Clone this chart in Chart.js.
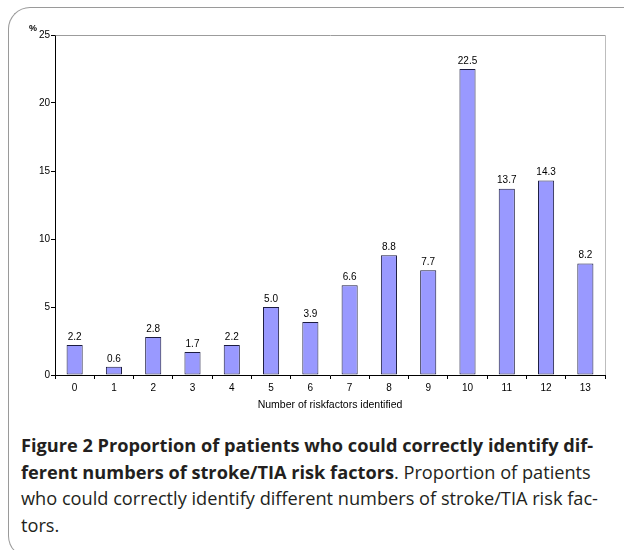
<!DOCTYPE html>
<html>
<head>
<meta charset="utf-8">
<script src="https://cdn.jsdelivr.net/npm/chart.js@4/dist/chart.umd.min.js"></script>
<style>
  html, body { margin: 0; padding: 0; background: #fff; width: 624px; height: 550px; overflow: hidden; }
  .frame {
    position: absolute; left: 8px; top: 7px; width: 660px; height: 549px;
    border-top: 1.5px solid #9a9a9a; border-left: 1.5px solid #9a9a9a; border-bottom: 1.5px solid #9a9a9a;
    border-top-left-radius: 22px; border-bottom-left-radius: 22px;
  }
  #wrap { position: absolute; left: 0; top: 0; width: 624px; height: 420px; }
  .caption {
    position: absolute; left: 21px; top: 432px;
    font-family: "Open Sans", sans-serif; font-size: 18.2px; line-height: 26.5px;
    color: #231f20; white-space: nowrap;
  }
  .caption b { font-weight: 700; }
</style>
</head>
<body>
<div class="frame"></div>
<div id="wrap"><canvas id="chart" width="624" height="420"></canvas></div>
<div class="caption">
  <b>Figure 2 Proportion of patients who could correctly identify dif-<br>ferent numbers of stroke/TIA risk factors</b>. Proportion of patients<br>who could correctly identify different numbers of stroke/TIA risk fac-<br>tors.
</div>
<script>
// Number of risk factors each patient could name
const categories = ['0', '1', '2', '3', '4', '5', '6', '7', '8', '9', '10', '11', '12', '13'];
// Share of patients (%) for each count
const percentValues = [2.2, 0.6, 2.8, 1.7, 2.2, 5.0, 3.9, 6.6, 8.8, 7.7, 22.5, 13.7, 14.3, 8.2];
// Value axis ticks
const yTicks = [0, 5, 10, 15, 20, 25];

const axisFont = { family: '"Liberation Sans", Arial, sans-serif', size: 10 };

// Grey frame on the top and right of the plot area
const plotFrame = {
  id: 'plotFrame',
  beforeDatasetsDraw(chart) {
    const { ctx, chartArea: a } = chart;
    ctx.save();
    ctx.lineWidth = 1;
    ctx.strokeStyle = '#9c9c9c';
    ctx.beginPath();
    ctx.moveTo(Math.round(a.left) + 0.5, Math.round(a.top) + 0.5);
    ctx.lineTo(Math.round(a.right) + 0.5, Math.round(a.top) + 0.5);
    ctx.stroke();
    ctx.strokeStyle = '#bdbdbd';
    ctx.beginPath();
    ctx.moveTo(Math.round(a.right) + 0.5, Math.round(a.top) + 0.5);
    ctx.lineTo(Math.round(a.right) + 0.5, Math.round(a.bottom));
    ctx.stroke();
    ctx.restore();
  }
};

// Value labels above the bars and the "%" unit at the top of the value axis
const barLabels = {
  id: 'barLabels',
  afterDatasetsDraw(chart) {
    const { ctx } = chart;
    const meta = chart.getDatasetMeta(0);
    ctx.save();
    ctx.font = '10px "Liberation Sans", Arial, sans-serif';
    ctx.fillStyle = '#000';
    ctx.textAlign = 'center';
    ctx.textBaseline = 'bottom';
    meta.data.forEach((bar, i) => {
      ctx.fillText(percentValues[i].toFixed(1), bar.x, bar.y - 3);
    });
    const y = chart.scales.y;
    ctx.font = 'bold 9px "Liberation Sans", Arial, sans-serif';
    ctx.textAlign = 'right';
    ctx.textBaseline = 'middle';
    ctx.fillText('%', y.right - 18, y.getPixelForValue(25) - 6);
    ctx.restore();
  }
};

new Chart(document.getElementById('chart'), {
  type: 'bar',
  data: {
    labels: categories,
    datasets: [{
      data: percentValues,
      backgroundColor: '#9999ff',
      borderColor: '#1c1c40',
      borderWidth: 1,
      borderSkipped: false,
      barPercentage: 0.41,
      categoryPercentage: 1.0
    }]
  },
  options: {
    responsive: false,
    animation: false,
    devicePixelRatio: 1,
    layout: { padding: { left: 0, right: 19, top: 35, bottom: 0 } },
    plugins: { legend: { display: false }, tooltip: { enabled: false } },
    scales: {
      x: {
        grid: { drawOnChartArea: false, drawTicks: true, tickLength: 4, color: '#000', offset: true },
        border: { color: '#000', width: 1 },
        ticks: { font: axisFont, color: '#000', padding: 3, maxRotation: 0 },
        title: {
          display: true, text: 'Number of riskfactors identified',
          font: { family: '"Liberation Sans", Arial, sans-serif', size: 10.5 }, color: '#000',
          padding: { top: 0, bottom: 9 }
        },
        afterFit(s) { s.height = 45; }
      },
      y: {
        min: 0, max: 25,
        afterBuildTicks(s) { s.ticks = yTicks.map(v => ({ value: v })); },
        grid: { drawOnChartArea: false, drawTicks: true, tickLength: 4, color: '#000' },
        border: { color: '#000', width: 1 },
        ticks: { font: axisFont, color: '#000', padding: 1 },
        afterFit(s) { s.width = 55; }
      }
    }
  },
  plugins: [plotFrame, barLabels]
});
</script>
</body>
</html>
